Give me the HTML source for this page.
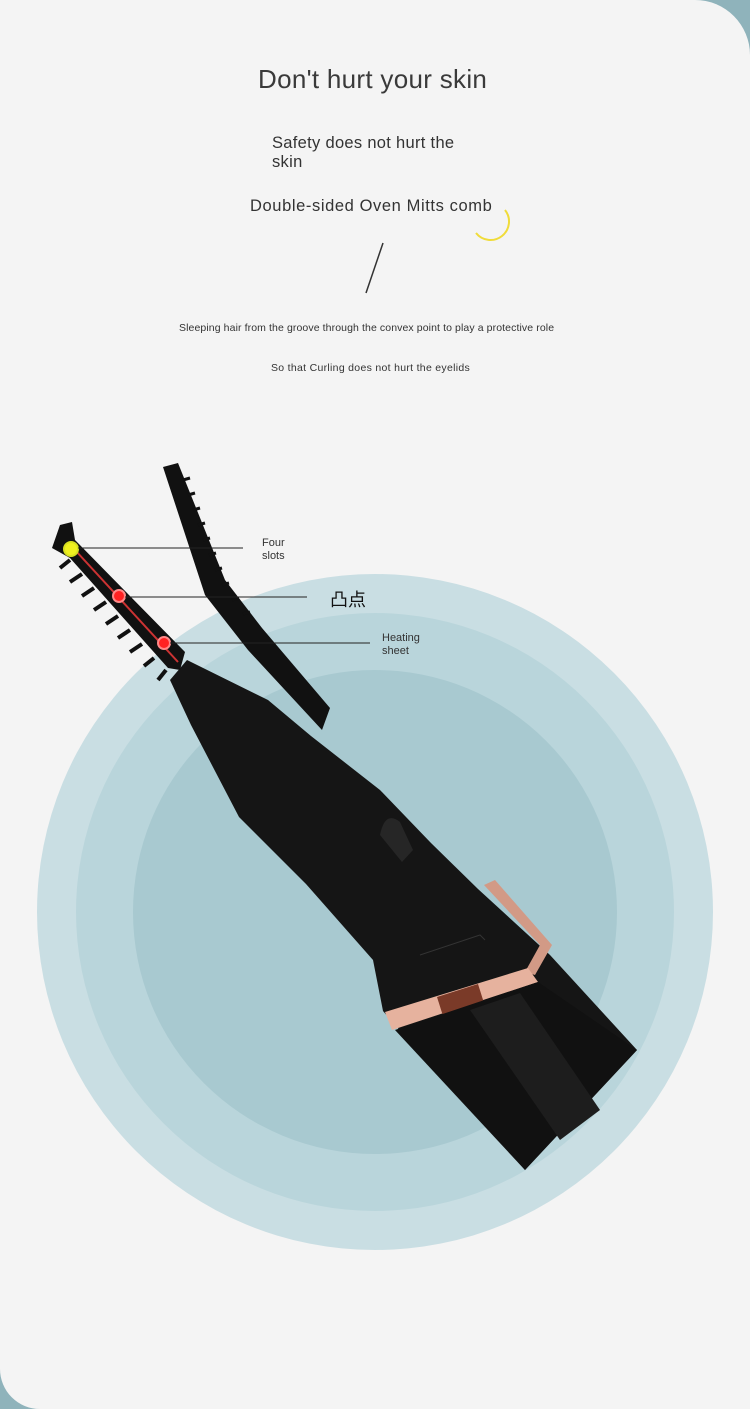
<!DOCTYPE html>
<html><head><meta charset="utf-8"><style>
html,body{margin:0;padding:0;}
body{width:750px;height:1409px;position:relative;overflow:hidden;background:#8fb3bb;font-family:"Liberation Sans","Noto Sans CJK SC",sans-serif;}
.card{position:absolute;left:0;top:0;width:750px;height:1409px;background:#f4f4f4;border-radius:0 55px 0 40px;}
.t{position:absolute;color:#333;white-space:nowrap;z-index:2;}
svg{z-index:1;}
</style></head><body>
<div class="card"></div>
<div class="t" style="left:258px;top:64px;font-size:26px;color:#3a3a3a;letter-spacing:0.3px;">Don't hurt your skin</div>
<div class="t" style="left:272px;top:134px;font-size:16.5px;line-height:19px;letter-spacing:0.3px;">Safety does not hurt the<br>skin</div>
<div class="t" style="left:250px;top:197px;font-size:16.5px;letter-spacing:0.6px;">Double-sided Oven Mitts comb</div>
<div class="t" style="left:179px;top:322px;font-size:10.5px;letter-spacing:0.1px;">Sleeping hair from the groove through the convex point to play a protective role</div>
<div class="t" style="left:271px;top:362px;font-size:10.5px;letter-spacing:0.3px;">So that Curling does not hurt the eyelids</div>
<div class="t" style="left:262px;top:537px;font-size:11px;line-height:13px;">Four<br>slots</div>
<div class="t" style="left:330px;top:586px;font-size:18px;color:#111;">凸点</div>
<div class="t" style="left:382px;top:632px;font-size:11px;line-height:13px;">Heating<br>sheet</div>
<svg width="750" height="1409" style="position:absolute;left:0;top:0">
<path d="M476 233 A17 17 0 0 0 505 210" fill="none" stroke="#f0dc3a" stroke-width="2"/>
<line x1="383" y1="243" x2="366" y2="293" stroke="#333" stroke-width="1.5"/>
<circle cx="375" cy="912" r="338" fill="#c9dee3"/>
<circle cx="375" cy="912" r="299" fill="#b9d5db"/>
<circle cx="375" cy="912" r="242" fill="#a8c9d0"/>
<!-- body -->
<path d="M187 660 L268 700 L311 736 L380 790 L431 843 L478 889 L550 955 L637 1050 L525 1170 L395 1025 L383 1011 L373 960 L306 884 L239 817 L191 725 L170 680 Z" fill="#151515"/>
<!-- upper arm -->
<path d="M163 467 L178 463 L225 580 L262 628 L330 708 L322 730 L248 650 L205 595 Z" fill="#111"/>
<g stroke="#111" stroke-width="3">
<line x1="183" y1="480" x2="190" y2="478"/><line x1="188" y1="495" x2="195" y2="493"/><line x1="193" y1="510" x2="200" y2="508"/><line x1="198" y1="525" x2="205" y2="523"/><line x1="203" y1="540" x2="210" y2="538"/><line x1="209" y1="555" x2="216" y2="553"/><line x1="215" y1="570" x2="222" y2="568"/><line x1="222" y1="585" x2="229" y2="583"/><line x1="232" y1="600" x2="239" y2="598"/><line x1="243" y1="614" x2="250" y2="612"/>
</g>
<!-- lower comb -->
<path d="M52 548 L60 525 L72 522 L75 540 L185 652 L180 670 L168 668 L70 558 Z" fill="#111"/>
<line x1="75" y1="550" x2="178" y2="662" stroke="#c33" stroke-width="2"/>
<g stroke="#111" stroke-width="4">
<line x1="70" y1="560" x2="60" y2="568"/><line x1="82" y1="574" x2="70" y2="582"/><line x1="94" y1="588" x2="82" y2="596"/><line x1="106" y1="602" x2="94" y2="610"/><line x1="118" y1="616" x2="106" y2="624"/><line x1="130" y1="630" x2="118" y2="638"/><line x1="142" y1="644" x2="130" y2="652"/><line x1="154" y1="658" x2="144" y2="666"/><line x1="166" y1="670" x2="158" y2="680"/>
</g>
<circle cx="71" cy="549" r="7" fill="#f0f020" stroke="#d8e020" stroke-width="2"/>
<circle cx="119" cy="596" r="6" fill="#f22" stroke="#f88" stroke-width="2"/>
<circle cx="164" cy="643" r="6" fill="#f22" stroke="#f88" stroke-width="2"/>
<line x1="78" y1="548" x2="243" y2="548" stroke="#222"/>
<line x1="125" y1="597" x2="307" y2="597" stroke="#222"/>
<line x1="170" y1="643" x2="370" y2="643" stroke="#222"/>
<path d="M380 835 Q385 810 400 822 L413 850 L402 862 Z" fill="#262626"/>
<path d="M420 955 L480 935 L485 940" fill="none" stroke="#333" stroke-width="1"/>
<!-- rose gold collar -->
<path d="M484 885 L495 880 L552 945 L535 975 L525 972 L540 945 Z" fill="#d29a86"/>
<path d="M385 1012 L528 968 L538 982 L392 1030 Z" fill="#e6b29e"/>
<path d="M437 997 L478 984 L484 1003 L443 1016 Z" fill="#7a3a28"/>
<path d="M395 1030 L538 982 L637 1050 L525 1170 Z" fill="#111"/>
<path d="M470 1010 L520 993 L600 1110 L560 1140 Z" fill="#1d1d1d"/>
</svg>
</body></html>
